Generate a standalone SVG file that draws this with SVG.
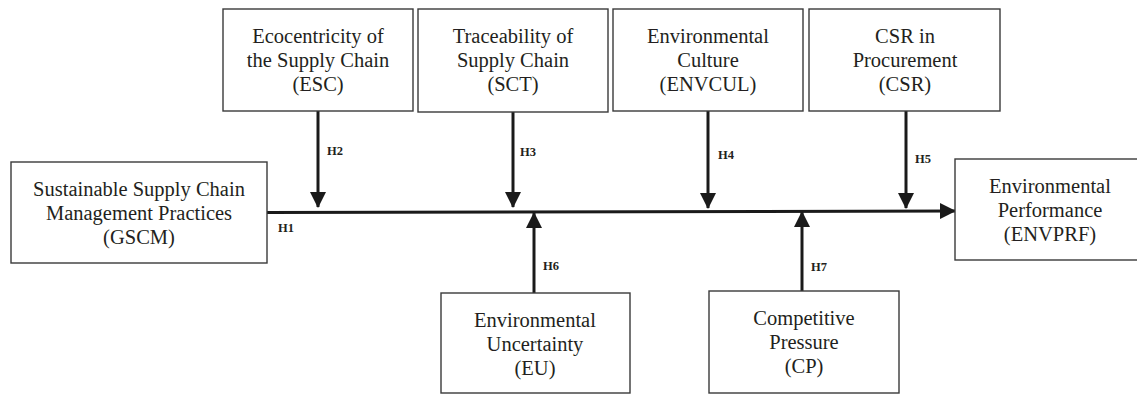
<svg xmlns="http://www.w3.org/2000/svg" width="1137" height="395" viewBox="0 0 1137 395">
<style>
.box{fill:#fff;stroke:#3a3a3a;stroke-width:1.4}
.t{font-family:"Liberation Serif","Times New Roman",serif;font-size:20.5px;fill:#231f20;text-anchor:middle}
.h{font-family:"Liberation Serif","Times New Roman",serif;font-size:12.5px;font-weight:bold;fill:#231f20}
.c{stroke:#1a1a1a;stroke-width:3;fill:none}
</style>
<defs>
<marker id="ah" markerUnits="userSpaceOnUse" markerWidth="16" markerHeight="16" viewBox="0 0 16 16" refX="15" refY="8" orient="auto">
<path d="M0,0 L16,8 L0,16 Z" fill="#1a1a1a"/>
</marker>
</defs>
<rect width="1137" height="395" fill="#fff"/>
<g id="connectors">
<line class="c" x1="267" y1="212.5" x2="955" y2="211" marker-end="url(#ah)"/>
<line class="c" x1="318" y1="111" x2="318" y2="207" marker-end="url(#ah)"/>
<line class="c" x1="513" y1="112" x2="513" y2="207" marker-end="url(#ah)"/>
<line class="c" x1="708" y1="111" x2="708" y2="208" marker-end="url(#ah)"/>
<line class="c" x1="906" y1="111" x2="906" y2="208" marker-end="url(#ah)"/>
<line class="c" x1="534" y1="293" x2="534" y2="213" marker-end="url(#ah)"/>
<line class="c" x1="802" y1="291" x2="802" y2="212" marker-end="url(#ah)"/>
<text class="h" x="278" y="232">H1</text>
<text class="h" x="327" y="155">H2</text>
<text class="h" x="520" y="156">H3</text>
<text class="h" x="718" y="159">H4</text>
<text class="h" x="915" y="163">H5</text>
<text class="h" x="543" y="270">H6</text>
<text class="h" x="811" y="271">H7</text>
</g>
<g id="gscm">
<rect class="box" x="11" y="162" width="256" height="101"/>
<text class="t" x="139" y="196">Sustainable Supply Chain</text>
<text class="t" x="139" y="220">Management Practices</text>
<text class="t" x="139" y="244">(GSCM)</text>
</g>
<g id="esc">
<rect class="box" x="223" y="9" width="190" height="102"/>
<text class="t" x="318" y="43">Ecocentricity of</text>
<text class="t" x="318" y="67">the Supply Chain</text>
<text class="t" x="318" y="91">(ESC)</text>
</g>
<g id="sct">
<rect class="box" x="418" y="9" width="190" height="103"/>
<text class="t" x="513" y="43">Traceability of</text>
<text class="t" x="513" y="67">Supply Chain</text>
<text class="t" x="513" y="91">(SCT)</text>
</g>
<g id="envcul">
<rect class="box" x="613" y="9" width="190" height="102"/>
<text class="t" x="708" y="43">Environmental</text>
<text class="t" x="708" y="67">Culture</text>
<text class="t" x="708" y="91">(ENVCUL)</text>
</g>
<g id="csr">
<rect class="box" x="809" y="9" width="191" height="102"/>
<text class="t" x="905" y="43">CSR in</text>
<text class="t" x="905" y="67">Procurement</text>
<text class="t" x="905" y="91">(CSR)</text>
</g>
<g id="envprf">
<rect class="box" x="955" y="159" width="190" height="101"/>
<text class="t" x="1050" y="193">Environmental</text>
<text class="t" x="1050" y="217">Performance</text>
<text class="t" x="1050" y="241">(ENVPRF)</text>
</g>
<g id="eu">
<rect class="box" x="441" y="293" width="189" height="100"/>
<text class="t" x="535" y="327">Environmental</text>
<text class="t" x="535" y="351">Uncertainty</text>
<text class="t" x="535" y="375">(EU)</text>
</g>
<g id="cp">
<rect class="box" x="709" y="291" width="190" height="102"/>
<text class="t" x="804" y="325">Competitive</text>
<text class="t" x="804" y="349">Pressure</text>
<text class="t" x="804" y="373">(CP)</text>
</g>
</svg>
